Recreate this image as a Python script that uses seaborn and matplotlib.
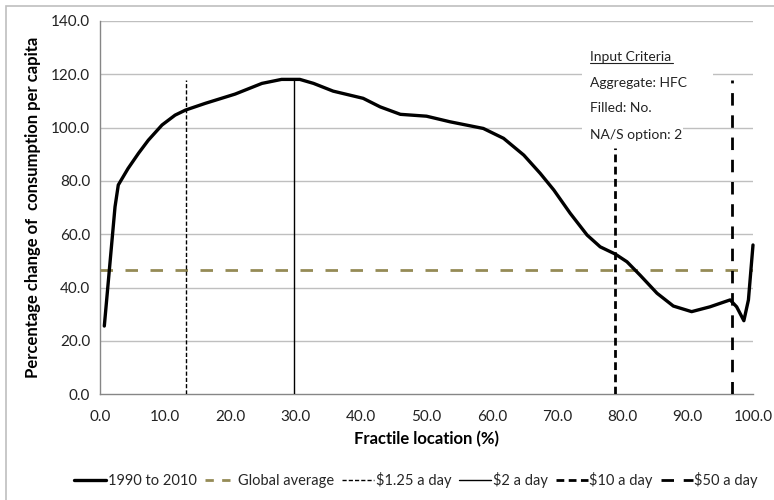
import matplotlib
matplotlib.use("Agg")
import matplotlib.pyplot as plt
import matplotlib.patches as mpatches
from matplotlib.lines import Line2D
import seaborn as sns
import pandas as pd

# ---- data ----
fractile = [0.66, 2.3, 2.8, 4.3, 5.9, 7.4, 9.5, 11.5, 13.1, 16.1, 20.7, 24.8,
            27.8, 29.9, 30.6, 32.7, 35.7, 40.3, 42.9, 46.0, 50.0, 53.6, 58.7, 61.8, 64.9,
            67.4, 69.5, 72.0, 74.6, 76.6, 78.9, 80.7, 82.7, 85.3, 87.8, 90.6, 93.4, 96.5,
            97.5, 98.6, 99.3, 100.0]
change = [25.6, 70.3, 78.5, 84.7, 90.4, 95.3, 101.0, 104.7, 106.6, 109.1,
          112.6, 116.6, 118.1, 118.1, 118.1, 116.6, 113.7, 111.0, 107.8, 105.0, 104.3,
          102.2, 99.7, 96.0, 89.7, 82.9, 76.6, 67.9, 59.7, 55.3, 52.6, 49.7, 44.7, 37.9,
          33.1, 31.0, 32.8, 35.4, 32.8, 27.6, 35.4, 56.0]
global_average = 46.6
line_names = ["$1.25 a day", "$2 a day", "$10 a day", "$50 a day"]
line_x = [13.1, 29.7, 78.9, 96.8]
line_top = [118.0, 118.2, 92.2, 118.0]
series_name = "1990 to 2010"
criteria = ["Input Criteria", "Aggregate: HFC", "Filled: No.", "NA/S option: 2"]
xticks = [0, 10, 20, 30, 40, 50, 60, 70, 80, 90, 100]
yticks = [0, 20, 40, 60, 80, 100, 120, 140]

sns.set_style("white")
plt.rcParams['font.family'] = ['Lato', 'DejaVu Sans']

fig = plt.figure(figsize=(7.74, 5.0), dpi=100)
ax = fig.add_axes([100/774, 1-394.3/500, 653/774, (394.3-21)/500])

# outer border
fig.patches.append(mpatches.Rectangle((6/774, -0.1), 1.2, 1-6/500+0.1, transform=fig.transFigure,
                                      fill=False, edgecolor='#BFBFBF', linewidth=1.2))

grid_c = '#BFBFBF'
for yt in yticks[1:]:
    ax.axhline(yt, color=grid_c, lw=1.0, zorder=0)

df = pd.DataFrame({"x": fractile, "y": change})
sns.lineplot(data=df, x="x", y="y", ax=ax, color='black', lw=2.4, zorder=5, sort=False,
             clip_on=False, solid_joinstyle='round', solid_capstyle='round')

olive = '#958B56'
ax.axhline(global_average, color=olive, lw=2.0, dashes=(4.5, 4.5), zorder=4)

styles = [dict(lw=1.0, dashes=(3, 1.5)),
          dict(lw=1.0, linestyle='-'),
          dict(lw=2.0, dashes=(2.8, 1.6)),
          dict(lw=2.0, dashes=(4.5, 3.5))]
for xv, top, st in zip(line_x, line_top, styles):
    ax.plot([xv, xv], [0, top], color='black', zorder=6, **st)

# criteria box (white)
ax.add_patch(mpatches.Rectangle((73.85, 103.6), 20.0, 27.5, facecolor='white', edgecolor='none', zorder=3))
ax.add_patch(mpatches.Rectangle((73.85, 93.1), 15.5, 10.6, facecolor='white', edgecolor='none', zorder=3))
text_y = [(394.3-57)/2.667, (394.3-83)/2.667, (394.3-108)/2.667, (394.3-135)/2.667]
for t, ty in zip(criteria, text_y):
    ax.text(75.1, ty, t, fontsize=10, va='center', ha='left', color='#222222', zorder=7)
# underline for heading
ax.plot([75.1, 87.8], [(394.3-63)/2.667]*2, color='#222222', lw=0.8, zorder=7)

ax.set_xlim(0, 100)
ax.set_ylim(0, 140)
ax.set_xticks(xticks)
ax.set_xticklabels([f"{v:.1f}" for v in xticks])
ax.set_yticks(yticks)
ax.set_yticklabels([f"{v:.1f}" for v in yticks])
ax.tick_params(axis='both', labelsize=11, colors='#222222', length=5, width=1, direction='out')
ax.tick_params(axis='x', color='#868686', pad=6)
ax.tick_params(axis='y', color='#868686', pad=2)
for s in ['top', 'right']:
    ax.spines[s].set_visible(False)
for s in ['left', 'bottom']:
    ax.spines[s].set_color('#868686')
    ax.spines[s].set_linewidth(1.0)

ax.set_xlabel("Fractile location (%)", fontsize=12, fontweight='bold', labelpad=5, color='black')
ax.set_ylabel("Percentage change of  consumption per capita", fontsize=12, fontweight='bold',
              labelpad=7, color='black')

handles = [Line2D([], [], color='black', lw=2.4),
           Line2D([], [], color=olive, lw=2.0, dashes=(3, 3))]
handles += [Line2D([], [], color='black', **st) for st in styles]
labels = [series_name, "Global average"] + line_names
fig.legend(handles, labels, loc='center', bbox_to_anchor=(416/774, 1-480/500), ncol=6,
           frameon=False, fontsize=10.5, handlelength=2.2, handletextpad=0.1, columnspacing=0.55)

fig.savefig("out.png", dpi=100)
